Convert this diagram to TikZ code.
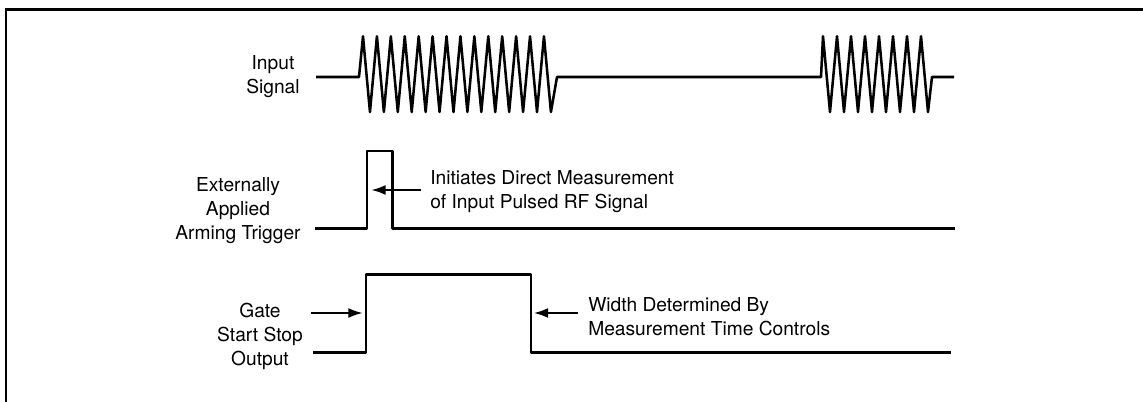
\documentclass[tikz,border=0pt]{standalone}
\usepackage{fontspec}
\setmainfont{TeX Gyre Heros}
\usetikzlibrary{arrows.meta}
\begin{document}
\begin{tikzpicture}[x=0.75pt,y=-0.75pt,
  wave/.style={line width=1.9pt,line join=round,line cap=butt},
  frameline/.style={line width=2pt},
  lbl/.style={align=center,inner sep=0pt,font=\fontsize{14.4pt}{18pt}\selectfont},
  note/.style={align=left,inner sep=0pt,anchor=west,font=\fontsize{14.4pt}{18pt}\selectfont},
  arr/.style={line width=1.9pt,-{Latex[length=11pt,width=7.5pt]}}]
\useasboundingbox (0,0) rectangle (1143,402);
% frame
\draw[frameline] (6,402) -- (6,9.5) -- (1143,9.5);
% labels
\node[lbl] (inlbl) at (273,77) {Input\\Signal};
\node[lbl] (armlbl) at (238,211) {Externally\\Applied\\Arming Trigger};
\node[lbl] (gatelbl) at (260,336) {Gate\\Start Stop\\Output};
\node[note] (initnote) at (430,192) {Initiates Direct Measurement\\of Input Pulsed RF Signal};
\node[note] (widthnote) at (588,317) {Width Determined By\\Measurement Time Controls};
% input signal
\draw[wave] (316,77) -- (359,77)
  \foreach \i in {0,...,13} { -- ({363+13.92*\i},36.3) -- ({369.96+13.92*\i},112) }
  -- (557,77) -- (821,77)
  \foreach \i in {0,...,7} { -- ({823+14.0*\i},36.3) -- ({830+14.0*\i},112) }
  -- (932,77) -- (954,77);
% arming trigger
\draw[wave] (315,228.5) -- (367,228.5) -- (367,151) -- (392.5,151) -- (392.5,228.5) -- (955,228.5);
% gate
\draw[wave] (313,352.5) -- (366,352.5) -- (366,274.5) -- (531,274.5) -- (531,352.5) -- (951,352.5);
% arrows
\coordinate (a1s) at (421,190);
\coordinate (a1e) at (371,190);
\draw[arr] (a1s) -- (a1e);
\coordinate (a2s) at (311,313);
\coordinate (a2e) at (363,313);
\draw[arr] (a2s) -- (a2e);
\coordinate (a3s) at (578,313);
\coordinate (a3e) at (533.5,313);
\draw[arr] (a3s) -- (a3e);
\end{tikzpicture}
\end{document}
